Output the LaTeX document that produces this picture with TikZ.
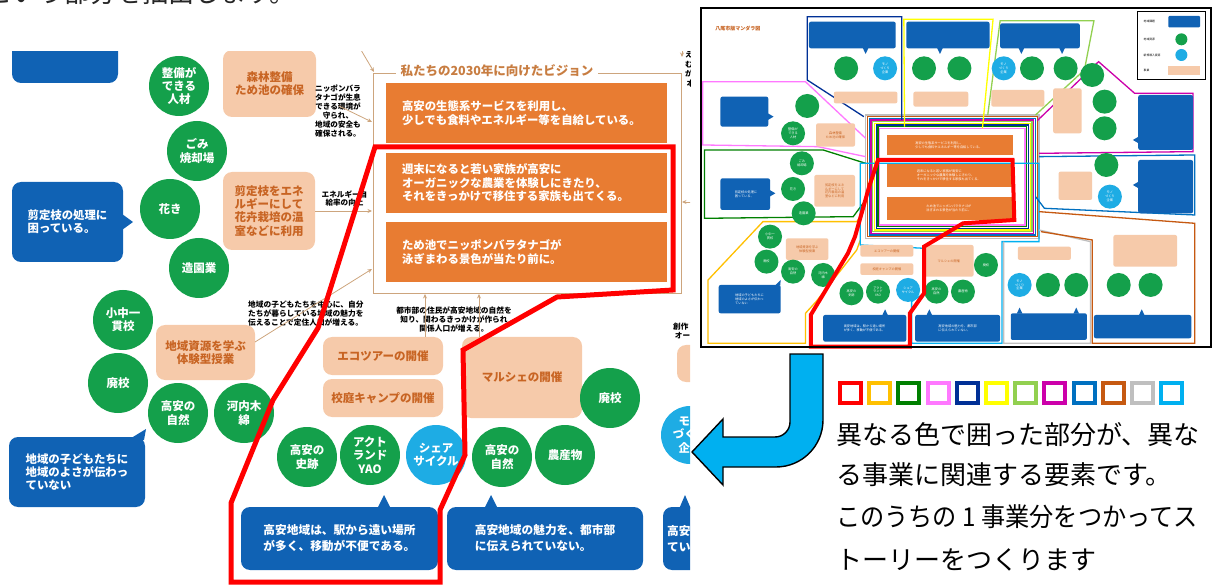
\documentclass[tikz,border=0pt]{standalone}
\usepackage{fontspec}
\usepackage{graphicx}
\setmainfont{Noto Sans CJK JP}
\usetikzlibrary{arrows.meta}
\definecolor{cblue}{RGB}{16,98,180}
\definecolor{cgreen}{RGB}{20,160,75}
\definecolor{clblue}{RGB}{30,172,228}
\definecolor{cpeach}{RGB}{246,202,170}
\definecolor{cpeachtxt}{RGB}{200,100,35}
\definecolor{corange}{RGB}{232,124,50}
\definecolor{ctan}{RGB}{205,165,125}
\definecolor{ctitle}{RGB}{200,125,65}
\definecolor{mred}{RGB}{255,0,0}
\definecolor{mgold}{RGB}{255,192,0}
\definecolor{mdgreen}{RGB}{0,128,0}
\definecolor{mpink}{RGB}{255,120,255}
\definecolor{mnavy}{RGB}{0,48,150}
\definecolor{myellow}{RGB}{255,255,0}
\definecolor{mlgreen}{RGB}{146,208,80}
\definecolor{mmagenta}{RGB}{204,0,170}
\definecolor{mblue}{RGB}{0,112,192}
\definecolor{mbrown}{RGB}{198,89,17}
\definecolor{mgray}{RGB}{191,191,191}
\definecolor{mlblue}{RGB}{0,176,240}
\tikzset{
 gc/.style={circle, fill=cgreen, minimum size=60pt, inner sep=0pt, text=white, align=center, font=\bfseries\fontsize{11.5}{13.3}\selectfont},
 lc/.style={gc, fill=clblue},
 pb/.style={rounded corners=9pt, fill=cpeach, text=cpeachtxt, align=center, inner sep=0pt, font=\bfseries\fontsize{11.5}{13.3}\selectfont},
 bb/.style={rounded corners=9pt, fill=cblue, text=white, align=left, inner sep=0pt, font=\bfseries\fontsize{11.4}{13.3}\selectfont},
 ob/.style={fill=corange, text=white, align=left, inner sep=0pt, font=\bfseries\fontsize{11.4}{13.5}\selectfont},
 note/.style={align=center, inner sep=0pt, font=\bfseries\fontsize{7.6}{8.9}\selectfont},
 tanarr/.style={draw=ctan, line width=0.8pt, -{Stealth[length=4.5pt,width=4pt]}},
 mgc/.style={circle, fill=cgreen, minimum size=24pt, inner sep=0pt, text=white, align=center, font=\fontsize{3.2}{3.8}\selectfont},
 mlc/.style={mgc, fill=clblue},
 mtxt/.style={inner sep=0pt, align=center, font=\fontsize{3.2}{3.8}\selectfont},
 mline/.style={line width=1.3pt, line join=miter},
 sq/.style={line width=4pt},
 bigtxt/.style={anchor=west, inner sep=0pt, font=\fontsize{26}{30}\selectfont},
}
\begin{document}
\begin{tikzpicture}[x=1pt,y=-1pt]
\useasboundingbox (0,0) rectangle (1221,585);
\clip (0,0) rectangle (1221,585);
\node[bigtxt, text=black!85] (head) at (-14,-7) {という部分を抽出します。};

%================ LEFT PANEL =================
\begin{scope}
\clip (0,52) rectangle (690,585);
% vision frame
\draw[ctan, line width=0.9pt] (373,73) rectangle (681,293);
\node[fill=white, text=ctitle, font=\bfseries\fontsize{12.5}{14}\selectfont, inner xsep=5pt, inner ysep=1pt] (vt) at (497,71) {私たちの2030年に向けたビジョン};
\node[ob, minimum width=281pt, minimum height=60pt, text width=249pt] (v1) at (526.5,113) {高安の生態系サービスを利用し、\\少しでも食料やエネルギー等を自給している。};
\node[ob, minimum width=281pt, minimum height=60pt, text width=249pt] (v2) at (526.5,183) {週末になると若い家族が高安に\\オーガニックな農業を体験しにきたり、\\それをきっかけで移住する家族も出てくる。};
\node[ob, minimum width=281pt, minimum height=60pt, text width=249pt] (v3) at (526.5,252) {ため池でニッポンバラタナゴが\\泳ぎまわる景色が当たり前に。};

% blue boxes
\node[bb, minimum width=106pt, minimum height=50pt] (b0) at (65,58) {};
\node[bb, minimum width=111pt, minimum height=80pt] (b1) at (67.5,222) {剪定枝の処理に\\困っている。};
\fill[cblue] (122,214) -- (133,222) -- (122,230) -- cycle;
\node[bb, minimum width=136pt, minimum height=70pt, font=\bfseries\fontsize{11.4}{13.3}\selectfont] (b2) at (77,472) {地域の子どもたちに\\地域のよさが伝わっ\\ていない};
\fill[cblue] (128,440) -- (144,440) -- (146,429) -- cycle;
\node[bb, minimum width=197pt, minimum height=63pt, font=\bfseries\fontsize{11.7}{16}\selectfont] (b3) at (339.5,538.5) {高安地域は、駅から遠い場所\\が多く、移動が不便である。};
\fill[cblue] (377,509) -- (384,495) -- (391,509) -- cycle;
\node[bb, minimum width=196pt, minimum height=63pt, font=\bfseries\fontsize{11.7}{16}\selectfont] (b4) at (545,538.5) {高安地域の魅力を、都市部\\に伝えられていない。};
\fill[cblue] (484,509) -- (491,495) -- (498,509) -- cycle;
\node[bb, minimum width=80pt, minimum height=63pt] (b5) at (703,538.5) {};
\fill[cblue] (679,509) -- (685,495) -- (691,509) -- cycle;
\node[anchor=west, inner sep=0pt, text=white, align=left, font=\bfseries\fontsize{11.7}{16}\selectfont] (b5t) at (667,538.5) {高安\\てい};

% peach boxes
\node[pb, minimum width=93pt, minimum height=67pt] (p1) at (269.5,83.5) {森林整備\\ため池の確保};
\node[pb, minimum width=92pt, minimum height=78pt] (p2) at (269,211) {剪定枝をエネ\\ルギーにして\\花卉栽培の温\\室などに利用};
\node[pb, minimum width=99pt, minimum height=55pt] (p3) at (205.5,352.5) {地域資源を学ぶ\\体験型授業};
\node[pb, minimum width=120pt, minimum height=38pt] (p4) at (383,356) {エコツアーの開催};
\node[pb, minimum width=120pt, minimum height=38pt] (p5) at (383,398) {校庭キャンプの開催};
\node[pb, minimum width=120pt, minimum height=81pt] (p6) at (522,377.5) {マルシェの開催};
\node[pb, minimum width=40pt, minimum height=37pt] (p7) at (697,363.5) {};

% green circles
\node[gc] (g1) at (179,86) {整備が\\できる\\人材};
\node[gc] (g2) at (197,151) {ごみ\\焼却場};
\node[gc] (g3) at (170,209) {花き};
\node[gc] (g4) at (199,268) {造園業};
\node[gc] (g5) at (123,320) {小中一\\貫校};
\node[gc] (g6) at (118,383) {廃校};
\node[gc] (g7) at (178,413) {高安の\\自然};
\node[gc] (g8) at (244,413) {河内木\\綿};
\node[gc] (g9) at (307,457) {高安の\\史跡};
\node[gc] (g10) at (370,455) {アクト\\ランド\\YAO};
\node[lc] (g11) at (436,455) {シェア\\サイクル};
\node[gc] (g12) at (502,457) {高安の\\自然};
\node[gc] (g13) at (565,455) {農産物};
\node[gc] (g14) at (610,398) {廃校};
\node[lc, minimum size=58pt] (g15) at (690,435) {モノ\\づくり\\企業};

% notes
\node[note] (n1) at (338,111) {ニッポンバラ\\タナゴが生息\\できる環境が\\守られ、\\地域の安全も\\確保される。};
\node[note] (n2) at (344.5,198.5) {エネルギー自\\給率の向上};
\node[note, align=left, anchor=west, font=\bfseries\fontsize{7.7}{9.3}\selectfont] (n3) at (248,313.5) {地域の子どもたちを中心に、自分\\たちが暮らしている地域の魅力を\\伝えることで定住人口が増える。};
\node[note, font=\bfseries\fontsize{7.7}{9}\selectfont] (n4) at (454,319.5) {都市部の住民が高安地域の自然を\\知り、関わるきっかけが作られ\\関係人口が増える。};
\node[note, align=left, anchor=west] (n5) at (673,331) {創作\\\ オー};
\node[note, align=left, anchor=north west, font=\bfseries\fontsize{7.6}{9.5}\selectfont] (n6) at (685,42) {果\\え\\む\\が\\\ 本};

% arrows
\draw[tanarr] (361,50) -- (374,72);
\draw[tanarr] (339,106) -- (372,122);
\draw[tanarr] (p2.east) -- (372,211);
\draw[tanarr] (255,342) -- (372,269);
\draw[tanarr] (425,337) -- (425,294);
\draw[tanarr] (479,337) -- (479,294);
\draw[tanarr] (694,202) -- (682,202);
\draw[tanarr] (682,38) -- (682,57);

% red outline
\draw[mred, line width=5pt, line join=miter] (375,147) -- (673,147) -- (673,290) -- (557,297) -- (463,350) -- (465,455) -- (440,510) -- (440,582) -- (231,582) -- (231,503) -- (273,400) -- (318,328) -- cycle;
\end{scope}

%================ MANDALA =================
\begin{scope}[shift={(699.23,0)}, x=0.354pt, y=-0.3333pt]
\fill[white] (5,25) rectangle (1445,1040);
\node[anchor=west, inner sep=0pt, text=cpeachtxt, font=\bfseries\fontsize{5}{6}\selectfont] (mt) at (45,85) {八尾市版マンダラ図};
% legend
\draw[line width=0.7pt] (1237,33) rectangle (1430,238);
\node[mtxt, anchor=west, font=\fontsize{2.8}{3}\selectfont] (l1) at (1255,65) {地域課題};
\fill[cblue, rounded corners=1pt] (1325,48) rectangle (1415,82);
\node[mtxt, anchor=west, font=\fontsize{2.8}{3}\selectfont] (l2) at (1255,118) {地域資源};
\fill[cgreen] (1362,118) circle[radius=6pt];
\node[mtxt, anchor=west, font=\fontsize{2.8}{3}\selectfont] (l3) at (1255,165) {新規導入資源};
\fill[clblue] (1362,165) circle[radius=6pt];
\node[mtxt, anchor=west, font=\fontsize{2.8}{3}\selectfont] (l4) at (1255,210) {事業};
\fill[cpeach] (1325,197) rectangle (1415,225);

% central block
\fill[white] (470,345) rectangle (960,715);
\foreach \c [count=\k from 0] in {mgray,mbrown,mblue,mmagenta,mlgreen,myellow,mnavy,mdgreen,mpink}
  \draw[\c, line width=1.2pt] (470+5*\k,345+5*\k) rectangle (960-5*\k,715-5*\k);
\fill[corange] (530,405) rectangle (885,465);
\fill[corange] (530,490) rectangle (885,560);
\fill[corange] (530,590) rectangle (885,660);
\node[mtxt, text=white, align=left] (mv1) at (705,435) {高安の生態系サービスを利用し、\\少しでも食料やエネルギー等を自給している。};
\node[mtxt, text=white, align=left] (mv2) at (705,525) {週末になると若い家族が高安に\\オーガニックな農業を体験しにきたり、\\それをきっかけで移住する家族も出てくる。};
\node[mtxt, text=white, align=left] (mv3) at (705,625) {ため池でニッポンバラタナゴが\\泳ぎまわる景色が当たり前に。};

% surrounding coloured regions
\draw[mnavy, mline] (465,350) -- (305,240) -- (305,50) -- (572,50) -- (572,360);
\draw[myellow, mline] (580,380) -- (578,58) -- (830,58) -- (800,385);
\draw[mlgreen, mline] (815,345) -- (850,62) -- (1115,62) -- (1088,210) -- (950,345);
\draw[mmagenta, mline] (960,460) -- (1395,455) -- (1395,280) -- (1230,280) -- (1128,185) -- (955,362);
\draw[mpink, mline] (470,415) -- (300,245) -- (10,245) -- (10,435) -- (335,440) -- (470,470);
\draw[mdgreen, mline] (470,490) -- (350,450) -- (15,450) -- (15,655) -- (435,650) -- (470,600);
\draw[mgold, mline] (455,650) -- (445,665) -- (180,665) -- (25,840) -- (25,1030) -- (300,1030) -- (300,940) -- (330,905) -- (445,750) -- (455,720);
\draw[mlblue, mline] (455,490) -- (960,490) -- (960,725) -- (855,725) -- (855,1030) -- (600,1030) -- (600,905) -- (635,880) -- (635,745) -- (455,735) -- cycle;
\draw[mgray, mline] (960,690) -- (1105,725) -- (1105,1030) -- (860,1030) -- (860,725);
\draw[mbrown, mline] (960,635) -- (1400,670) -- (1400,1030) -- (1110,1030) -- (1110,720) -- (965,695);
\draw[mblue, mline] (960,470) -- (1400,465) -- (1400,645) -- (975,625) -- (950,590);

% blue boxes
\foreach \a/\b/\c/\d in {310/65/555/145, 585/65/820/145, 850/70/1075/145, 1240/285/1395/450, 60/290/195/380, 60/535/200/630, 1240/480/1395/640, 55/855/230/940, 350/945/585/1025, 610/945/850/1025, 880/940/1095/1020, 1115/945/1390/1015}
  \fill[cblue, rounded corners=2pt] (\a,\b) rectangle (\c,\d);
\fill[cblue] (462,144) -- (470,162) -- (478,144) -- cycle;
\fill[cblue] (672,144) -- (680,162) -- (688,144) -- cycle;
\fill[cblue] (902,144) -- (910,162) -- (918,144) -- cycle;
\fill[cblue] (1017,144) -- (1025,162) -- (1033,144) -- cycle;
\fill[cblue] (1241,410) -- (1225,420) -- (1241,430) -- cycle;
\fill[cblue] (194,340) -- (210,350) -- (194,360) -- cycle;
\fill[cblue] (199,570) -- (215,580) -- (199,590) -- cycle;
\fill[cblue] (1241,545) -- (1225,555) -- (1241,565) -- cycle;
\fill[cblue] (215,856) -- (230,840) -- (229,856) -- cycle;
\fill[cblue] (517,946) -- (525,928) -- (533,946) -- cycle;
\fill[cblue] (642,946) -- (650,928) -- (658,946) -- cycle;
\fill[cblue] (897,941) -- (905,923) -- (913,941) -- cycle;
\fill[cblue] (1057,941) -- (1065,923) -- (1073,941) -- cycle;
\fill[cblue] (1242,946) -- (1250,928) -- (1258,946) -- cycle;
\node[mtxt, text=white, align=left] (mb1) at (132,582) {剪定枝の処理に\\困っている。};
\node[mtxt, text=white, align=left] (mb2) at (142,897) {地域の子どもたちに\\地域のよさが伝わっ\\ていない};
\node[mtxt, text=white, align=left] (mb3) at (467,985) {高安地域は、駅から遠い場所\\が多く、移動が不便である。};
\node[mtxt, text=white, align=left] (mb4) at (730,985) {高安地域の魅力を、都市部\\に伝えられていない。};

% peach boxes
\foreach \a/\b/\c/\d in {380/275/560/310, 605/275/760/320, 825/270/975/320, 1000/265/1080/400, 330/370/440/440, 325/525/440/620, 1015/515/1110/600, 245/715/365/780, 455/735/605/770, 455/790/605/825, 635/735/775/830, 900/740/1050/780, 1170/705/1350/800}
  \fill[cpeach, rounded corners=2pt] (\a,\b) rectangle (\c,\d);
\node[mtxt, text=cpeachtxt] (mp1) at (385,405) {森林整備\\ため池の確保};
\node[mtxt, text=cpeachtxt] (mp2) at (382.5,572.5) {剪定枝をエネ\\ルギーにして\\花卉栽培の温\\室などに利用};
\node[mtxt, text=cpeachtxt] (mp3) at (305,747.5) {地域資源を学ぶ\\体験型授業};
\node[mtxt, text=cpeachtxt] (mp4) at (530,752.5) {エコツアーの開催};
\node[mtxt, text=cpeachtxt] (mp5) at (530,807.5) {校庭キャンプの開催};
\node[mtxt, text=cpeachtxt] (mp6) at (705,782.5) {マルシェの開催};

% circles
\foreach \p in {(415,205),(635,205),(735,205),(940,205),(1035,205),(1110,225),(1145,305),(1145,385),(305,318),(1150,495),(1185,855),(1275,855),(985,855),(1065,855)}
  \node[mgc] at \p {};
\node[mgc] (mc1) at (265,400) {整備が\\できる\\人材};
\node[mgc] (mc2) at (290,490) {ごみ\\焼却場};
\node[mgc] (mc3) at (265,567) {花き};
\node[mgc] (mc4) at (295,640) {造園業};
\node[mgc] (mc5) at (200,710) {小中一\\貫校};
\node[mgc] (mc6) at (190,785) {廃校};
\node[mgc] (mc7) at (265,815) {高安の\\自然};
\node[mgc] (mc8) at (350,825) {河内木\\綿};
\node[mgc] (mc9) at (810,795) {廃校};
\node[mgc] (mc10) at (430,880) {高安の\\史跡};
\node[mgc] (mc11) at (505,875) {アクト\\ランド\\YAO};
\node[mlc] (mc12) at (590,870) {シェア\\サイクル};
\node[mgc] (mc13) at (670,875) {高安の\\自然};
\node[mgc] (mc14) at (745,875) {農産物};
\node[mlc] (mc15) at (525,205) {モノ\\づくり\\企業};
\node[mlc] (mc16) at (860,205) {モノ\\づくり\\企業};
\node[mlc] (mc17) at (1160,590) {モノ\\づくり\\企業};
\node[mlc] (mc18) at (905,855) {モノ\\づくり\\企業};

% red region
\draw[mred, line width=4pt, line join=miter] (505,480) -- (885,480) -- (890,660) -- (745,670) -- (635,740) -- (635,880) -- (595,940) -- (595,1040) -- (315,1040) -- (315,945) -- (420,760) -- (440,710) -- (480,560) -- cycle;
% frame
\draw[line width=1.8pt] (5,25) rectangle (1445,1040);
\end{scope}

%================ ARROW & LEGEND TEXT =================
\draw[fill=mlblue, line width=1.4pt, line join=miter] (823,354) -- (823,420) arc[start angle=0, end angle=90, radius=47] -- (723,467) -- (723,485) -- (692,452) -- (723,419) -- (723,437) -- (775,437) arc[start angle=90, end angle=0, radius=15] -- (790,354) -- cycle;

\foreach \c [count=\k from 0] in {mred,mgold,mdgreen,mpink,mnavy,myellow,mlgreen,mmagenta,mblue,mbrown,mgray,mlblue}
  \draw[\c, sq] (840+29.2*\k,383) rectangle (861+29.2*\k,403);

\node[bigtxt] (t1) at (836,435) {異なる色で囲った部分が、異な};
\node[bigtxt] (t2) at (836,475) {る事業に関連する要素です。};
\node[bigtxt] (t3) at (836,517) {\scalebox{0.93}[1]{このうちの 1 事業分をつかってス}};
\node[bigtxt] (t4) at (836,560) {トーリーをつくります};
\end{tikzpicture}
\end{document}
